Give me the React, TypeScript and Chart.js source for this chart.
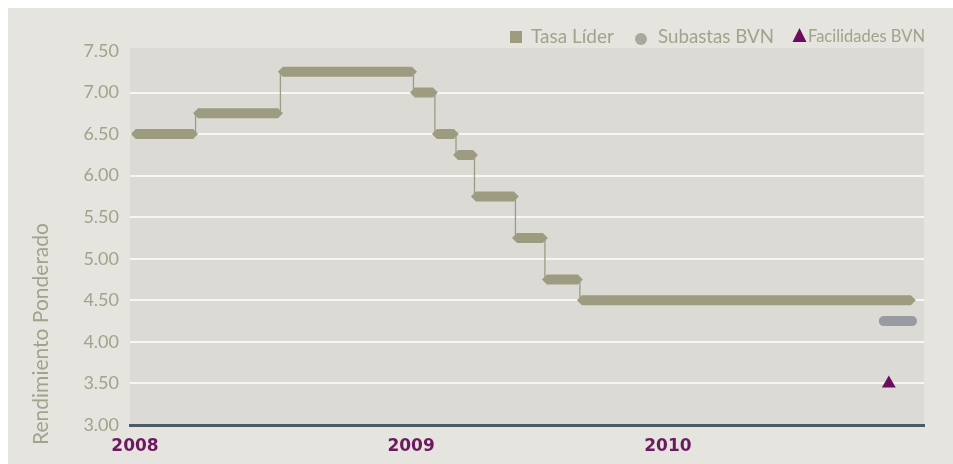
import React, { useEffect, useRef } from "react";
import { Chart, registerables } from "chart.js";
Chart.register(...registerables);

// x values are months since January 2008
const xTickValues = [0.22, 12.39, 23.71];
const xTickLabels = ["2008", "2009", "2010"];

// Tasa Líder step segments
const segStart = [0.26, 3.0, 6.74, 12.56, 13.53, 14.46, 15.25, 17.06, 18.38, 19.92];
const segEnd = [2.78, 6.52, 12.43, 13.35, 14.28, 15.12, 16.92, 18.2, 19.74, 34.42];
const tasaLider = [6.5, 6.75, 7.25, 7.0, 6.5, 6.25, 5.75, 5.25, 4.75, 4.5];

// Subastas BVN
const subastasStart = [33.23];
const subastasEnd = [34.47];
const subastasValue = [4.25];

// Facilidades BVN
const facilidadesX = [33.45];
const facilidadesValue = [3.5];

const yTicks = [3.0, 3.5, 4.0, 4.5, 5.0, 5.5, 6.0, 6.5, 7.0, 7.5];

const OLIVE = "#9d9c80";
const TEXT = "#a3a28a";
const PURPLE = "#6c0d60";

export default function App() {
  const ref = useRef<HTMLCanvasElement>(null);

  useEffect(() => {
    if (!ref.current) return;
    const band: any[] = [];
    const connector: any[] = [];
    segStart.forEach((s, i) => {
      band.push({ x: s, y: tasaLider[i] }, { x: segEnd[i], y: tasaLider[i] });
      if (i < segStart.length - 1) band.push({ x: segEnd[i], y: null });
      connector.push({ x: s, y: tasaLider[i] }, { x: segEnd[i], y: tasaLider[i] });
    });
    const subastas: any[] = [];
    subastasStart.forEach((s, i) => {
      subastas.push({ x: s, y: subastasValue[i] }, { x: subastasEnd[i], y: subastasValue[i] });
    });
    const facilidades = facilidadesX.map((x, i) => ({ x, y: facilidadesValue[i] }));

    const bgPlugin = {
      id: "bg",
      beforeDraw(chart: any) {
        const { ctx, chartArea, width, height } = chart;
        ctx.save();
        ctx.fillStyle = "#e5e4df";
        ctx.fillRect(0, 0, width, height);
        ctx.fillStyle = "#dcdad5";
        ctx.fillRect(chartArea.left, chartArea.top - 3, chartArea.right - chartArea.left, chartArea.bottom - chartArea.top + 3);
        ctx.restore();
      },
      afterDraw(chart: any) {
        const { ctx } = chart;
        ctx.save();
        // y title
        ctx.translate(33, 326);
        ctx.rotate(-Math.PI / 2);
        ctx.fillStyle = TEXT;
        ctx.font = "21px Lato";
        ctx.textAlign = "center";
        ctx.textBaseline = "middle";
        ctx.fillText("Rendimiento Ponderado", 0, 0, 228);
        ctx.restore();

        // legend
        ctx.save();
        ctx.textBaseline = "alphabetic";
        ctx.textAlign = "left";
        ctx.fillStyle = OLIVE;
        ctx.fillRect(502, 23, 12, 12);
        ctx.fillStyle = TEXT;
        ctx.font = "19px Lato";
        ctx.fillText("Tasa Líder", 523, 35, 84);
        ctx.fillStyle = "#a9a89c";
        ctx.beginPath();
        ctx.arc(633, 31, 6, 0, Math.PI * 2);
        ctx.fill();
        ctx.fillStyle = TEXT;
        ctx.fillText("Subastas BVN", 650, 35, 116);
        ctx.fillStyle = PURPLE;
        ctx.beginPath();
        ctx.moveTo(791.5, 20);
        ctx.lineTo(798.5, 34);
        ctx.lineTo(784.5, 34);
        ctx.closePath();
        ctx.fill();
        ctx.fillStyle = TEXT;
        ctx.font = "16.5px Lato";
        ctx.fillText("Facilidades BVN", 800, 34, 117);
        ctx.restore();
      },
    };

    const chart = new Chart(ref.current, {
      type: "line",
      data: {
        datasets: [
          {
            label: "Facilidades BVN",
            data: facilidades,
            showLine: false,
            pointStyle: "triangle",
            pointRadius: 8,
            pointBackgroundColor: PURPLE,
            pointBorderWidth: 0,
            borderColor: PURPLE,
            order: 1,
          },
          {
            label: "Subastas BVN",
            data: subastas,
            borderColor: "#979ba2",
            borderWidth: 10,
            borderCapStyle: "round",
            pointRadius: 0,
            order: 2,
          },
          {
            label: "Tasa Líder",
            data: band,
            borderColor: OLIVE,
            borderWidth: 10,
            borderCapStyle: "butt",
            spanGaps: false,
            pointStyle: "rectRot",
            pointRadius: 5,
            pointBackgroundColor: OLIVE,
            pointBorderWidth: 0,
            order: 3,
          },
          {
            label: "connector",
            data: connector,
            borderColor: OLIVE,
            borderWidth: 1.3,
            stepped: "middle",
            pointRadius: 0,
            order: 4,
          },
        ],
      },
      options: {
        animation: false,
        responsive: true,
        maintainAspectRatio: false,
        layout: { padding: { left: 0, right: 29, top: 43, bottom: 0 } },
        plugins: { legend: { display: false }, tooltip: { enabled: false } },
        scales: {
          x: {
            type: "linear",
            min: 0,
            max: 35,
            afterFit(scale: any) {
              scale.height = 39;
            },
            afterBuildTicks(scale: any) {
              scale.ticks = xTickValues.map((v) => ({ value: v }));
            },
            grid: { display: false, drawTicks: false },
            border: { display: true, color: "#4e5966", width: 3 },
            ticks: {
              autoSkip: false,
              maxRotation: 0,
              padding: 11,
              color: "#6b1a5f",
              font: { family: "DejaVu Sans", size: 17, weight: "bold" },
              callback: (v: any) => {
                const i = xTickValues.indexOf(Number(v));
                return i >= 0 ? xTickLabels[i] : "";
              },
            },
          },
          y: {
            min: 3,
            max: 7.5,
            afterFit(scale: any) {
              scale.width = 122;
            },
            afterBuildTicks(scale: any) {
              scale.ticks = yTicks.map((v) => ({ value: v }));
            },
            border: { display: false },
            grid: {
              drawTicks: false,
              lineWidth: 2,
              color: (c: any) => (c.tick && (c.tick.value === 3 || c.tick.value === 7.5) ? "rgba(0,0,0,0)" : "#f7f6f2"),
            },
            ticks: {
              padding: 11,
              color: TEXT,
              font: { family: "Lato", size: 18 },
              callback: (v: any) => Number(v).toFixed(2),
            },
          },
        },
      },
      plugins: [bgPlugin],
    });
    return () => chart.destroy();
  }, []);

  return (
    <div style={{ position: "absolute", left: 8, top: 8, width: 945, height: 456 }}>
      <canvas ref={ref} />
    </div>
  );
}
